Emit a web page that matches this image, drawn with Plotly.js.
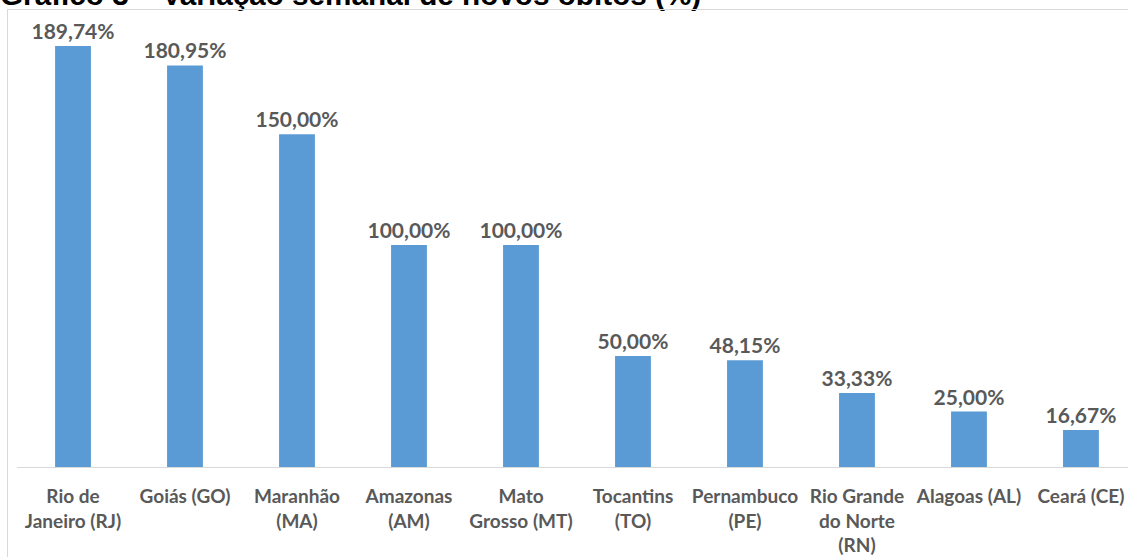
<!DOCTYPE html>
<html>
<head>
<meta charset="utf-8">
<script src="https://cdn.plot.ly/plotly-3.0.1.min.js"></script>
<style>
  html, body { margin: 0; padding: 0; background: #ffffff; overflow: hidden; }
  #wrap { position: relative; width: 1128px; height: 557px; }
  #chart { position: absolute; left: 0; top: 0; width: 1128px; height: 557px; }
  #frame { position: absolute; left: 7px; top: 9px; width: 1200px; height: 600px;
           border-left: 1px solid #d9d9d9; border-top: 1px solid #d9d9d9; pointer-events: none; }
</style>
</head>
<body>
<div id="wrap">
  <div id="chart"></div>
  <div id="frame"></div>
</div>
<script>
const chartTitle = "Gráfico 3 – Variação semanal de novos óbitos (%)";
const categories = [
  "Rio de<br>Janeiro (RJ)",
  "Goiás (GO)",
  "Maranhão<br>(MA)",
  "Amazonas<br>(AM)",
  "Mato<br>Grosso (MT)",
  "Tocantins<br>(TO)",
  "Pernambuco<br>(PE)",
  "Rio Grande<br>do Norte<br>(RN)",
  "Alagoas (AL)",
  "Ceará (CE)"
];
const values = [189.74, 180.95, 150.00, 100.00, 100.00, 50.00, 48.15, 33.33, 25.00, 16.67];
const valueLabels = values.map(v => v.toFixed(2).replace(".", ",") + "%");

const labelFont = { family: "Lato, 'Open Sans', sans-serif", size: 21, color: "#595959", weight: "bold" };

const trace = {
  type: "bar",
  x: categories,
  y: values,
  marker: { color: "#5b9bd5" },
  text: valueLabels,
  textposition: "outside",
  constraintext: "none",
  textfont: labelFont,
  cliponaxis: false,
  hoverinfo: "x+y"
};

const layout = {
  width: 1128,
  height: 557,
  margin: { l: 17, r: 0, t: 10, b: 90, pad: 0 },
  paper_bgcolor: "rgba(0,0,0,0)",
  plot_bgcolor: "rgba(0,0,0,0)",
  showlegend: false,
  bargap: 0.68,
  title: {
    text: "<b>" + chartTitle + "</b>",
    font: { family: "'Liberation Sans', Arial, sans-serif", size: 29.7, color: "#000000" },
    x: 0, xref: "container", xanchor: "left",
    y: 1 - 5 / 557, yref: "container", yanchor: "bottom",
    automargin: false
  },
  xaxis: {
    type: "category",
    range: [-0.5, 9.42],
    showline: true,
    linecolor: "#d9d9d9",
    linewidth: 1,
    showgrid: false,
    zeroline: false,
    ticks: "",
    ticklabelstandoff: 12,
    tickfont: { family: "Lato, 'Open Sans', sans-serif", size: 19, color: "#595959", weight: "bold" },
    automargin: false,
    fixedrange: true
  },
  yaxis: {
    range: [0, 205.95],
    visible: false,
    showgrid: false,
    zeroline: false,
    fixedrange: true
  }
};

Plotly.newPlot("chart", [trace], layout, { displayModeBar: false, staticPlot: true });
</script>
</body>
</html>
